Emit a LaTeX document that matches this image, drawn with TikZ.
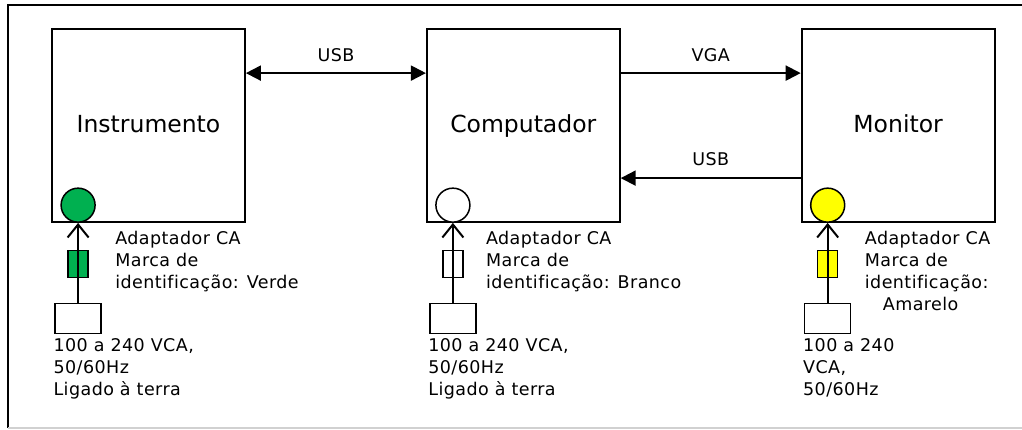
\documentclass[tikz,border=0pt]{standalone}
\usepackage{fontspec}
\setmainfont{DejaVu Sans}[Ligatures=NoCommon]
\usetikzlibrary{arrows.meta, positioning}
\definecolor{lampgreen}{RGB}{0,176,80}
\definecolor{lampyellow}{RGB}{255,255,0}

\begin{document}
\begin{tikzpicture}[x=1pt, y=-1pt,
  dev/.style={rectangle, draw=black, line width=1.8pt, minimum width=193pt,
              minimum height=193pt, text height=19pt, text depth=5pt,
              font=\fontsize{23.5}{28}\selectfont},
  lamp/.style={circle, draw=black, line width=1.5pt, fill=#1, minimum size=34pt, inner sep=0pt},
  adp/.style={rectangle, draw=black, line width=1.5pt, fill=#1, minimum width=20pt,
              minimum height=27pt, inner sep=0pt},
  plg/.style={rectangle, draw=black, line width=1.5pt, minimum width=46pt,
              minimum height=30pt, inner sep=0pt},
  arr/.style={-{Triangle[length=15pt,width=15pt]}, line width=2pt},
  dbl/.style={{Triangle[length=15pt,width=15pt]}-{Triangle[length=15pt,width=15pt]}, line width=2pt},
  feed/.style={-{Straight Barb[length=13pt,width=21pt]}, line width=2pt},
  lbl/.style={inner sep=0pt, align=left,
              font=\fontsize{17.5}{22}\selectfont\addfontfeatures{LetterSpace=2.5}}
]
\useasboundingbox (0,0) rectangle (1022,429);
\draw[line width=2pt] (1022,5) -- (8,5) -- (8,428);
\draw[black!18, line width=1.5pt] (8,428) -- (1022,428);

\node[dev] (inst) at (148.5,125.5) {Instrumento};
\node[dev, right=180pt of inst] (comp) {Computador};
\node[dev, right=180pt of comp] (mon)  {Monitor};

\foreach \d/\c in {inst/lampgreen, comp/white, mon/lampyellow} {
  \node[lamp=\c, anchor=south] (\d-l) at ([xshift=27pt]\d.south west) {};
  \node[adp=\c, below=27pt of \d-l] (\d-a) {};
  \node[plg, below=80pt of \d-l] (\d-p) {};
  \draw[feed] (\d-p) -- (\d-l);
}

\draw[dbl] ([yshift=-45pt]inst.north east) -- node[lbl, above=10pt] (usb1) {USB} ([yshift=-45pt]comp.north west);
\draw[arr] ([yshift=-45pt]comp.north east) -- node[lbl, above=10pt] (vga) {VGA} ([yshift=-45pt]mon.north west);
\draw[arr] ([yshift=-150pt]mon.north west) -- node[lbl, above=11pt] (usb2) {USB} ([yshift=-150pt]comp.north east);

\node[lbl, anchor=north west] (inst-n) at ([xshift=64pt, yshift=-8pt]inst.south west)
  {Adaptador CA\\Marca de\\identificação: Verde};
\node[lbl, anchor=north west] (comp-n) at ([xshift=60pt, yshift=-8pt]comp.south west)
  {Adaptador CA\\Marca de\\identificação: Branco};
\node[lbl, anchor=north west] (mon-n) at ([xshift=64pt, yshift=-8pt]mon.south west)
  {Adaptador CA\\Marca de\\identificação:\\\hspace*{18pt}Amarelo};

\node[lbl, anchor=north west] (inst-v) at ([xshift=-1pt, yshift=-4pt]inst-p.south west)
  {100 a 240 VCA,\\50/60Hz\\Ligado à terra};
\node[lbl, anchor=north west] (comp-v) at ([xshift=-1pt, yshift=-4pt]comp-p.south west)
  {100 a 240 VCA,\\50/60Hz\\Ligado à terra};
\node[lbl, anchor=north west] (mon-v) at ([xshift=-1pt, yshift=-4pt]mon-p.south west)
  {100 a 240\\VCA,\\50/60Hz};
\end{tikzpicture}
\end{document}
